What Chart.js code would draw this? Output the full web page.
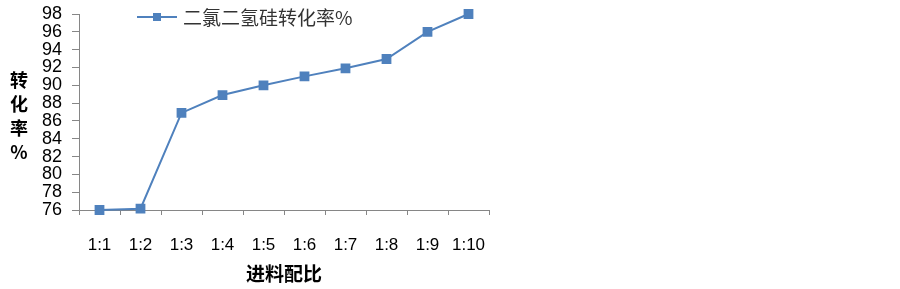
<!DOCTYPE html>
<html>
<head>
<meta charset="utf-8">
<script src="https://cdn.jsdelivr.net/npm/chart.js@4/dist/chart.umd.min.js"></script>
<style>
  html, body { margin: 0; padding: 0; background: #fff; }
  #chart-box { width: 900px; height: 289px; }
</style>
</head>
<body>
<div id="chart-box"><canvas id="ratio-chart"></canvas></div>
<script>
const categories = ['1:1', '1:2', '1:3', '1:4', '1:5', '1:6', '1:7', '1:8', '1:9', '1:10'];
const conversion = [76, 76.15, 86.9, 88.9, 90, 91, 91.9, 92.95, 96, 98];
const seriesName = '二氯二氢硅转化率%';
const yTitleChars = ['转', '化', '率', '%'];
const xTitle = '进料配比';

const BLUE = '#4F81BD';
const AXIS = '#868686';
const CJK = '"Noto Sans CJK SC", sans-serif';
const LATIN = '"Liberation Sans", Arial, sans-serif';

// legend + axis titles drawn by hand (stacked y title isn't supported)
const extraText = {
  id: 'extraText',
  afterDraw(chart) {
    const { ctx, chartArea } = chart;
    ctx.save();

    // legend
    ctx.strokeStyle = BLUE;
    ctx.lineWidth = 2;
    ctx.beginPath();
    ctx.moveTo(137, 17);
    ctx.lineTo(177, 17);
    ctx.stroke();
    ctx.fillStyle = BLUE;
    ctx.fillRect(153, 13, 8, 8);
    ctx.fillStyle = '#333';
    ctx.font = `19px ${CJK}`;
    ctx.textAlign = 'left';
    ctx.textBaseline = 'middle';
    ctx.fillText(seriesName, 183, 18);

    // y title, one char per line
    ctx.fillStyle = '#000';
    ctx.font = `bold 18px ${CJK}`;
    ctx.textAlign = 'center';
    yTitleChars.forEach((ch, i) => {
      ctx.fillText(ch, 19, 80 + i * 24);
    });

    // x title
    ctx.font = `bold 19px ${CJK}`;
    ctx.fillText(xTitle, (chartArea.left + chartArea.right) / 2, 274);

    ctx.restore();
  },
};

const canvasElem = document.getElementById('ratio-chart').getContext('2d');
const chart = new Chart(canvasElem, {
  type: 'line',
  data: {
    labels: categories,
    datasets: [{
      label: seriesName,
      data: conversion,
      borderColor: BLUE,
      backgroundColor: BLUE,
      borderWidth: 2,
      pointStyle: 'rect',
      pointRadius: 5.5,
      pointHoverRadius: 5.5,
      tension: 0,
      clip: false,
    }],
  },
  options: {
    responsive: true,
    maintainAspectRatio: false,
    animation: false,
    layout: {
      padding: { left: 0, top: 14, right: 411, bottom: 0 },
    },
    plugins: {
      legend: { display: false },
      title: { display: false },
      tooltip: { enabled: false },
    },
    scales: {
      x: {
        offset: true,
        grid: {
          offset: true,
          drawOnChartArea: false,
          drawTicks: true,
          tickLength: 5,
          color: AXIS,
        },
        border: { color: AXIS, width: 1 },
        ticks: {
          color: '#000',
          font: { family: LATIN, size: 17 },
          padding: 20,
          maxRotation: 0,
          autoSkip: false,
        },
        afterFit(scale) {
          scale.height = 79;
          scale.paddingLeft = 0;
          scale.paddingRight = 0;
        },
      },
      y: {
        min: 76,
        max: 98,
        grid: {
          drawOnChartArea: false,
          drawTicks: true,
          tickLength: 7,
          color: AXIS,
        },
        border: { color: AXIS, width: 1 },
        ticks: {
          stepSize: 2,
          autoSkip: false,
          color: '#000',
          font: { family: LATIN, size: 18, lineHeight: 1 },
          padding: 10,
        },
        afterFit(scale) {
          scale.width = 79;
          scale.paddingTop = 0;
          scale.paddingBottom = 0;
        },
      },
    },
  },
  plugins: [extraText],
});
</script>
</body>
</html>
